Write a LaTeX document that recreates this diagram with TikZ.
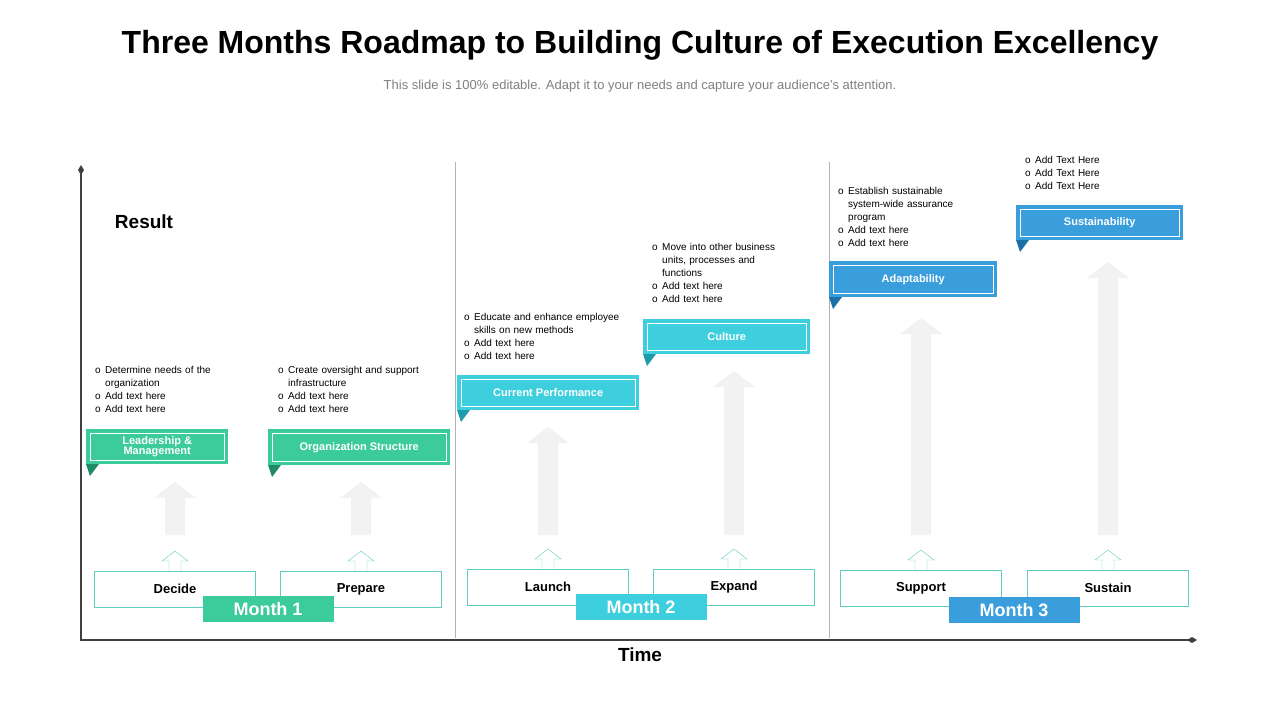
\documentclass[tikz,border=0pt]{standalone}
\usepackage{fontspec}
\setmainfont{Liberation Sans}
\usetikzlibrary{positioning}
\definecolor{mgreen}{HTML}{3CCB9A}
\definecolor{mcyan}{HTML}{3ECFDE}
\definecolor{mblue}{HTML}{3A9EDC}
\definecolor{dgreen}{HTML}{1E8A68}
\definecolor{dcyan}{HTML}{1E9AAA}
\definecolor{dblue}{HTML}{1D6FA8}
\definecolor{stepline}{HTML}{5FCDC0}
\definecolor{axisgray}{HTML}{404040}
\definecolor{arrowgray}{HTML}{F2F2F2}
\newcommand\itm[1]{\par\hyphenpenalty=10000\hangindent=10pt\hangafter=1\makebox[10pt][l]{o}#1}
\tikzset{
  stepbox/.style={draw=stepline, fill=white, minimum width=161pt, minimum height=36pt, font=\bfseries\fontsize{13}{15}\selectfont, inner sep=0pt},
  monthbox/.style={fill=#1, text=white, minimum width=131pt, minimum height=26pt, font=\bfseries\fontsize{18}{20}\selectfont, inner sep=0pt},
  bullets/.style={anchor=north west, align=left, inner sep=0pt, font=\fontsize{10}{13}\selectfont},
}
% banner: x0, y0, x1, y1, fill, dark, text
\newcommand\banner[8]{%
  \fill[#6] (#1,#4) -- (#1+13,#4) -- (#1+4,#4+12) -- cycle;
  \node[fill=#5, minimum width=#3-#1, minimum height=#4-#2, inner sep=0pt, anchor=north west] (#8) at (#1,#2) {};
  \draw[white, line width=0.8pt] (#1+4,#2+4) rectangle (#3-4,#4-4);
  \node[text=white, font=\bfseries\fontsize{11}{12}\selectfont, align=center] at (#8.center) {#7};
}
% gray arrow: center x, top y
\newcommand\bigarrow[2]{%
  \fill[arrowgray] (#1-10,535) -- (#1-10,#2+16) -- (#1-21,#2+16) -- (#1,#2) -- (#1+21,#2+16) -- (#1+10,#2+16) -- (#1+10,535) -- cycle;
}
% outline arrow above a step box: center x, box top y
\newcommand\smallarrow[2]{%
  \draw[stepline, fill=white] (#1-6,#2) -- (#1-6,#2-10) -- (#1-13,#2-10) -- (#1,#2-20) -- (#1+13,#2-10) -- (#1+6,#2-10) -- (#1+6,#2);
}
\begin{document}
\begin{tikzpicture}[x=1pt, y=-1pt]
  \useasboundingbox[fill=white] (0,0) rectangle (1280,720);
  % Titulo
  \node[font=\bfseries\fontsize{32}{36}\selectfont] (title) at (640,45) {Three Months Roadmap to Building Culture of Execution Excellency};
  \node[font=\fontsize{13}{15}\selectfont, text=gray] (sub) at (640,86) {This slide is 100\% editable. Adapt it to your needs and capture your audience's attention.};
  % Eixos
  \draw[axisgray, line width=2.5pt] (81,170) -- (81,640) -- (1193,640);
  \fill[axisgray] (81,165) -- (84,170) -- (81,175) -- (78,170) -- cycle;
  \fill[axisgray] (1197,640) -- (1192,643) -- (1187,640) -- (1192,637) -- cycle;
  \draw[gray!60] (455,162) -- (455,638);
  \draw[gray!60] (829,162) -- (829,638);
  \node[font=\bfseries\fontsize{19}{21}\selectfont] (result) at (144,222) {Result};
  \node[font=\bfseries\fontsize{19}{21}\selectfont] (time) at (640,655) {Time};
  % Setas cinzas
  \bigarrow{175}{482}
  \bigarrow{361}{482}
  \bigarrow{548}{427}
  \bigarrow{734}{371}
  \bigarrow{921}{318}
  \bigarrow{1108}{262}
  % Etapas
  \smallarrow{175}{571}
  \smallarrow{361}{571}
  \smallarrow{548}{569}
  \smallarrow{734}{569}
  \smallarrow{921}{570}
  \smallarrow{1108}{570}
  \node[stepbox] (decide) at (175,589) {Decide};
  \node[stepbox] (prepare) at (361,589) {Prepare};
  \node[stepbox] (launch) at (548,587) {Launch};
  \node[stepbox] (expand) at (734,587) {Expand};
  \node[stepbox] (support) at (921,588) {Support};
  \node[stepbox] (sustain) at (1108,588) {Sustain};
  \node[monthbox=mgreen] (m1) at (268,609) {Month 1};
  \node[monthbox=mcyan] (m2) at (641,607) {Month 2};
  \node[monthbox=mblue] (m3) at (1014,610) {Month 3};
  % Faixas
  \banner{86}{429}{228}{464}{mgreen}{dgreen}{Leadership \&\\[-2pt] Management}{lead}
  \banner{268}{429}{450}{465}{mgreen}{dgreen}{Organization Structure}{org}
  \banner{457}{375}{639}{410}{mcyan}{dcyan}{Current Performance}{perf}
  \banner{643}{319}{810}{354}{mcyan}{dcyan}{Culture}{cult}
  \banner{829}{261}{997}{297}{mblue}{dblue}{Adaptability}{adapt}
  \banner{1016}{205}{1183}{240}{mblue}{dblue}{Sustainability}{sust}
  % Textos
  \node[bullets, text width=130pt] (t1) at (95,360) {\itm{Determine needs of the organization}\itm{Add text here}\itm{Add text here}};
  \node[bullets, text width=160pt] (t2) at (278,360) {\itm{Create oversight and support infrastructure}\itm{Add text here}\itm{Add text here}};
  \node[bullets, text width=175pt] (t3) at (464,307) {\itm{Educate and enhance employee skills on new methods}\itm{Add text here}\itm{Add text here}};
  \node[bullets, text width=135pt] (t4) at (652,237) {\itm{Move into other business units, processes and functions}\itm{Add text here}\itm{Add text here}};
  \node[bullets, text width=130pt] (t5) at (838,181) {\itm{Establish sustainable system-wide assurance program}\itm{Add text here}\itm{Add text here}};
  \node[bullets, text width=130pt] (t6) at (1025,150) {\itm{Add Text Here}\itm{Add Text Here}\itm{Add Text Here}};
\end{tikzpicture}
\end{document}
